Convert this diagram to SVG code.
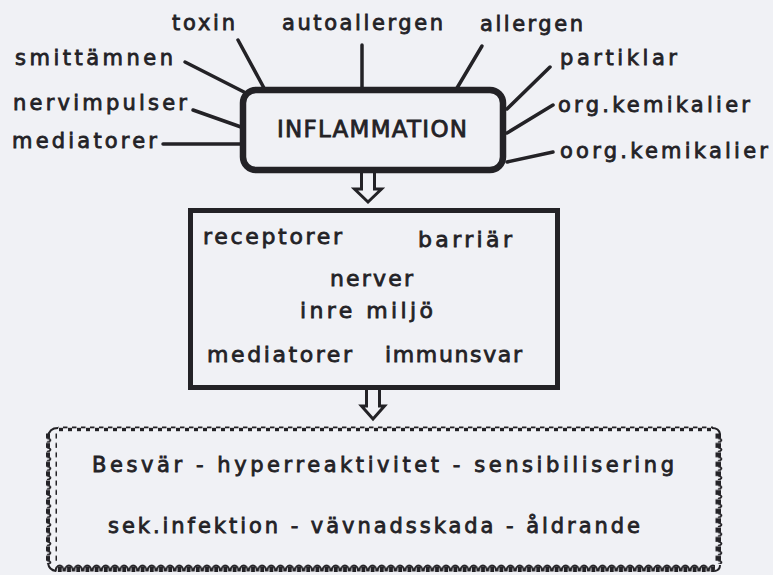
<svg xmlns="http://www.w3.org/2000/svg" width="773" height="575" viewBox="0 0 773 575">
<style>
  .t { font-family: "DejaVu Sans", "Liberation Sans", sans-serif; fill: #232226; stroke: #232226; stroke-width: 0.8; }
  .s { font-size: 21px; }
  .m { font-size: 22px; }
  .big { font-size: 23px; }
  .ln { stroke: #232226; stroke-width: 3.5; stroke-linecap: round; fill: none; }
  .arr { stroke: #232226; stroke-width: 3; fill: #f0f1f5; stroke-linejoin: miter; }
</style>
<defs>
  <pattern id="pTop" patternUnits="userSpaceOnUse" x="0" y="426" width="9" height="6">
    <rect x="0" y="0.5" width="4.5" height="1.8" fill="#232226"/>
    <rect x="5" y="1.8" width="4" height="3.4" fill="#232226"/>
  </pattern>
  <pattern id="pSide" patternUnits="userSpaceOnUse" x="0" y="433" width="11" height="9.4">
    <rect x="0.5" y="0.5" width="5.5" height="5" fill="#232226"/>
    <path d="M3,5 Q10,7.2 3,9.4" fill="none" stroke="#232226" stroke-width="1.8"/>
  </pattern>
  <pattern id="pBot" patternUnits="userSpaceOnUse" x="0" y="562" width="9.2" height="10">
    <path d="M0.5,9.5 C0.5,1.5 8.5,1.5 8.5,9.5" fill="none" stroke="#232226" stroke-width="2"/>
    <rect x="2.6" y="4.5" width="4" height="5.5" fill="#232226"/>
  </pattern>
</defs>
<rect x="0" y="0" width="773" height="575" fill="#f0f1f5"/>

<g id="connectors">
  <line class="ln" x1="238" y1="40" x2="264" y2="88"/>
  <line class="ln" x1="362" y1="45" x2="362" y2="88"/>
  <line class="ln" x1="482" y1="46" x2="457" y2="88"/>
  <line class="ln" x1="185" y1="62" x2="244" y2="92"/>
  <line class="ln" x1="193" y1="110" x2="241" y2="127"/>
  <line class="ln" x1="163" y1="144" x2="241" y2="144"/>
  <line class="ln" x1="550" y1="67" x2="507" y2="109"/>
  <line class="ln" x1="553" y1="105" x2="507" y2="133"/>
  <line class="ln" x1="553" y1="152" x2="507" y2="162"/>
  <path class="arr" d="M361.5,172 V189 H354.5 L368,202 L381.5,189 H374.5 V172"/>
  <path class="arr" d="M366.5,390 V406 H361.5 L373,419 L384.5,406 H379.5 V390"/>
</g>

<g id="inflammation">
  <rect x="243" y="90" width="260" height="80" rx="13" ry="13" fill="none" stroke="#232226" stroke-width="6.5"/>
  <text class="t big" x="277" y="137" textLength="190" lengthAdjust="spacing">INFLAMMATION</text>
</g>

<g id="labels">
  <text class="t s" x="172" y="30" textLength="63" lengthAdjust="spacing">toxin</text>
  <text class="t s" x="282" y="30" textLength="161" lengthAdjust="spacing">autoallergen</text>
  <text class="t s" x="480" y="31" textLength="103" lengthAdjust="spacing">allergen</text>
  <text class="t s" x="15" y="65" textLength="158" lengthAdjust="spacing">smittämnen</text>
  <text class="t s" x="13" y="110" textLength="174" lengthAdjust="spacing">nervimpulser</text>
  <text class="t s" x="12" y="148" textLength="145" lengthAdjust="spacing">mediatorer</text>
  <text class="t s" x="560" y="65" textLength="117" lengthAdjust="spacing">partiklar</text>
  <text class="t s" x="558" y="112" textLength="192" lengthAdjust="spacing">org.kemikalier</text>
  <text class="t s" x="560" y="158" textLength="208" lengthAdjust="spacing">oorg.kemikalier</text>
</g>

<g id="middle">
  <rect x="190.5" y="210.5" width="367" height="177" fill="none" stroke="#232226" stroke-width="5"/>
  <text class="t m" x="203" y="244" textLength="139" lengthAdjust="spacing">receptorer</text>
  <text class="t m" x="418" y="247" textLength="94" lengthAdjust="spacing">barriär</text>
  <text class="t m" x="330" y="286" textLength="83" lengthAdjust="spacing">nerver</text>
  <text class="t m" x="300" y="318" textLength="133" lengthAdjust="spacing">inre miljö</text>
  <text class="t m" x="207" y="362" textLength="145" lengthAdjust="spacing">mediatorer</text>
  <text class="t m" x="385" y="362" textLength="137" lengthAdjust="spacing">immunsvar</text>
</g>

<g id="effects">
  <rect x="58" y="426" width="655" height="6" fill="url(#pTop)"/>
  <rect x="46" y="433" width="11" height="131" fill="url(#pSide)"/>
  <rect x="715" y="433" width="11" height="131" fill="url(#pSide)"/>
  <rect x="55" y="562" width="660" height="10" fill="url(#pBot)"/>
  <path d="M48,437 Q49,428 58,428" fill="none" stroke="#232226" stroke-width="2"/>
  <path d="M712,428 Q719,428 720,434" fill="none" stroke="#232226" stroke-width="2"/>
  <path d="M48,563 Q49,570 56,571" fill="none" stroke="#232226" stroke-width="2"/>
  <path d="M715,571 Q720,570 720,565" fill="none" stroke="#232226" stroke-width="2"/>
  <text class="t s" x="92" y="472" textLength="582" lengthAdjust="spacing">Besvär - hyperreaktivitet - sensibilisering</text>
  <text class="t s" x="108" y="533" textLength="532" lengthAdjust="spacing">sek.infektion - vävnadsskada - åldrande</text>
</g>
</svg>
